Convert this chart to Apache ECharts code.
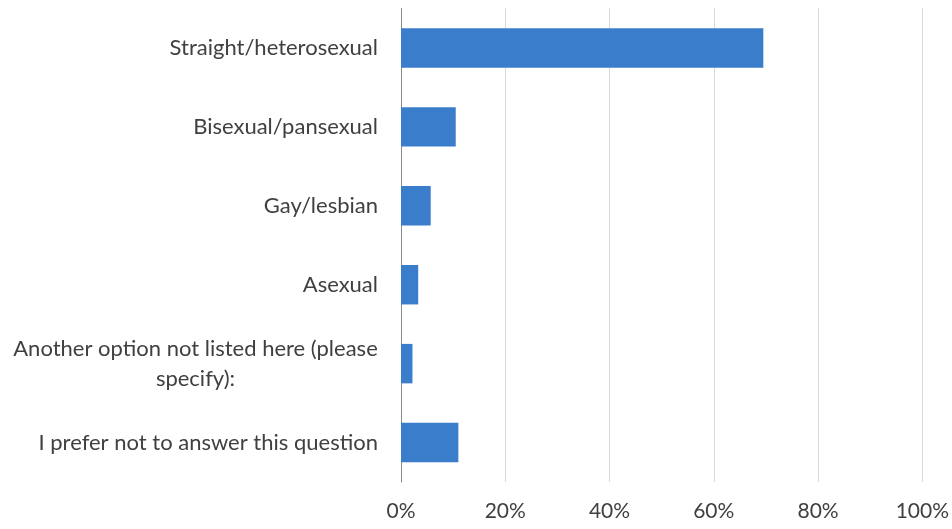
<!DOCTYPE html>
<html>
<head>
<meta charset="utf-8">
<style>
  html, body { margin: 0; padding: 0; background: #ffffff; }
  #chart { width: 952px; height: 529px; }
</style>
<script src="https://cdn.jsdelivr.net/npm/echarts@6/dist/echarts.min.js"></script>
</head>
<body>
<div id="chart"></div>
<script>
// Responses, listed top to bottom
const categories = [
  'Straight/heterosexual',
  'Bisexual/pansexual',
  'Gay/lesbian',
  'Asexual',
  'Another option not listed here (please specify):',
  'I prefer not to answer this question'
];
// Share of respondents, percent
const shares = [69.5, 10.5, 5.7, 3.3, 2.2, 11.0];
const xTicks = [0, 20, 40, 60, 80, 100];

const FONT = 'Lato, "Open Sans", sans-serif';
const TEXT = '#404040';
const LABEL_SIZE = 22;

// Width of a text run in the label font, used to centre wrapped lines
const measureCtx = document.createElement('canvas').getContext('2d');
function textWidth(s) {
  measureCtx.font = LABEL_SIZE + 'px ' + FONT;
  return Math.ceil(measureCtx.measureText(s).width);
}

const chart = echarts.init(document.getElementById('chart'), null, { renderer: 'canvas' });

// Category axis runs bottom-up, so reverse for top-down order
const cats = categories.slice().reverse();
const vals = shares.slice().reverse();

let wrapWidth = 0;

chart.setOption({
  animation: false,
  grid: { left: 401, right: 28.5, top: 8.5, height: 473.5, containLabel: false },
  xAxis: {
    type: 'value',
    min: xTicks[0],
    max: xTicks[xTicks.length - 1],
    interval: xTicks[1] - xTicks[0],
    axisLine: { show: false },
    axisTick: { show: false },
    splitLine: { lineStyle: { color: '#d9d9d9', width: 1 } },
    axisLabel: {
      formatter: v => v + '%',
      color: TEXT, fontFamily: FONT, fontSize: 21, margin: 19
    }
  },
  yAxis: {
    type: 'category',
    data: cats,
    axisLine: { lineStyle: { color: '#8c8c8c', width: 1 } },
    axisTick: { show: false },
    axisLabel: {
      margin: 23,
      color: TEXT, fontFamily: FONT, fontSize: LABEL_SIZE,
      formatter: function (name) {
        // Long answer wraps onto a second, centred line
        const cut = name.indexOf(' specify');
        if (cut > 0) {
          return '{c|' + name.slice(0, cut) + '}\n{c|' + name.slice(cut + 1) + '}';
        }
        return name;
      },
      rich: {
        c: {
          align: 'center', width: textWidth('Another option not listed here (please'),
          color: TEXT, fontFamily: FONT, fontSize: LABEL_SIZE, lineHeight: 30
        }
      }
    }
  },
  series: [{
    type: 'bar',
    data: vals,
    barCategoryGap: '50%',
    itemStyle: { color: '#3a7dca' }
  }]
});
</script>
</body>
</html>
